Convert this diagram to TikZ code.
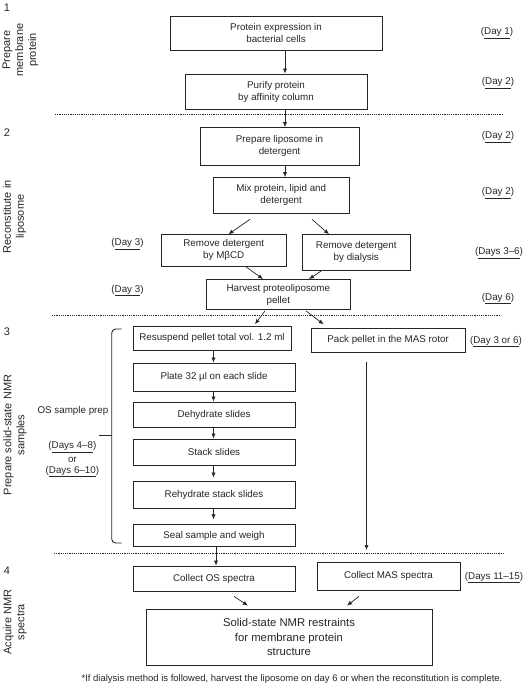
\documentclass[tikz,border=0pt]{standalone}
\usepackage{fontspec}
\setmainfont{Liberation Sans}
\usetikzlibrary{arrows.meta}
\begin{document}
\begin{tikzpicture}[x=1pt,y=-1pt,
  box/.style={draw=black!85, line width=0.8pt, align=center, inner sep=0pt,
    font=\fontsize{9.8}{12}\selectfont, text=black!85},
  arr/.style={draw=black!85, line width=0.7pt, -{Latex[length=5pt,width=4.2pt]}},
  lab/.style={font=\fontsize{9.8}{12}\selectfont, text=black!85, inner sep=0pt, align=center},
  side/.style={font=\fontsize{11}{13}\selectfont, text=black!85, rotate=90, align=center, inner sep=0pt},
  num/.style={font=\fontsize{11}{13}\selectfont, text=black!85, inner sep=0pt},
  sepline/.style={draw=black!85, line width=0.9pt, dash pattern=on 1.1pt off 1.1pt},
  brace/.style={draw=black!85, line width=0.9pt, rounded corners=4pt}]
\useasboundingbox (0,0) rectangle (530,685);

% boxes
\node[box, minimum width=212pt, minimum height=34pt] (b1) at (276,33.3) {Protein expression in\\bacterial cells};
\node[box, minimum width=182pt, minimum height=35.5pt] (b2) at (276,91.7) {Purify protein\\by affinity column};
\node[box, minimum width=159pt, minimum height=37.5pt] (b3) at (279.5,146.2) {Prepare liposome in\\detergent};
\node[box, minimum width=135.5pt, minimum height=35.5pt] (b4) at (281.2,195.2) {Mix protein, lipid and\\detergent};
\node[box, minimum width=124.5pt, minimum height=31.4pt] (b5) at (223.7,250.3) {Remove detergent\\by MβCD};
\node[box, minimum width=107.4pt, minimum height=35.4pt] (b6) at (356.3,252.3) {Remove detergent\\by dialysis};
\node[box, minimum width=143.3pt, minimum height=30pt] (b7) at (278.3,294.5) {Harvest proteoliposome\\pellet};
\node[box, minimum width=158pt, minimum height=24pt] (b8) at (212,338.3) {Resuspend pellet total vol. 1.2 ml};
\node[box, minimum width=154pt, minimum height=24pt] (b9) at (388,340) {Pack pellet in the MAS rotor};
\node[box, minimum width=162pt, minimum height=28.7pt] (b10) at (214,377.3) {Plate 32 µl on each slide};
\node[box, minimum width=162pt, minimum height=25.7pt] (b11) at (214,414.8) {Dehydrate slides};
\node[box, minimum width=162pt, minimum height=26.8pt] (b12) at (214,452.4) {Stack slides};
\node[box, minimum width=162pt, minimum height=27pt] (b13) at (214,494.5) {Rehydrate stack slides};
\node[box, minimum width=162pt, minimum height=22pt] (b14) at (214,535.7) {Seal sample and weigh};
\node[box, minimum width=162pt, minimum height=25pt] (b15) at (214,578.5) {Collect OS spectra};
\node[box, minimum width=143pt, minimum height=28pt] (b16) at (388.5,576) {Collect MAS spectra};
\node[box, minimum width=286pt, minimum height=56pt, font=\fontsize{11.3}{14.5}\selectfont] (b17) at (289,637) {Solid-state NMR restraints\\for membrane protein\\structure};

% vertical arrows
\coordinate (v1) at (285,0);
\coordinate (v2) at (213.5,0);
\coordinate (v3) at (216,0);
\coordinate (pk) at (366.5,0);
\coordinate (pkend) at (366.5,550);
\draw[arr] (b1.south -| v1) -- (b2.north -| v1);
\draw[arr] (b2.south -| v1) -- (b3.north -| v1);
\draw[arr] (b3.south -| v1) -- (b4.north -| v1);
\draw[arr] (b8.south -| v2) -- (b10.north -| v2);
\draw[arr] (b10.south -| v2) -- (b11.north -| v2);
\draw[arr] (b11.south -| v2) -- (b12.north -| v2);
\draw[arr, shorten >=3pt] (b12.south -| v2) -- (b13.north -| v2);
\draw[arr, shorten >=5pt] (b13.south -| v2) -- (b14.north -| v2);
\draw[arr] (b14.south -| v3) -- (b15.north -| v3);
\draw[arr, shorten <=10pt] (b9.south -| pk) -- (pkend);

% diagonal arrows
\draw[arr] ([xshift=-31.2pt,yshift=-6pt]b4.south) -- ([xshift=4.8pt]b5.north);
\draw[arr] ([xshift=30.8pt,yshift=-6pt]b4.south) -- ([xshift=-27.3pt]b6.north);
\draw[arr] ([xshift=21.8pt]b5.south) -- ([xshift=-15.3pt]b7.north);
\draw[arr] ([xshift=-34.3pt]b6.south) -- ([xshift=30.7pt]b7.north);
\draw[arr] ([xshift=-13.3pt,yshift=-1pt]b7.south) -- ([xshift=43pt,yshift=1.7pt]b8.north);
\draw[arr] ([xshift=27.7pt,yshift=-1pt]b7.south) -- ([xshift=-64.3pt,yshift=3.3pt]b9.north);
\draw[arr] ([xshift=20pt,yshift=-5pt]b15.south) -- ([xshift=-41pt,yshift=3pt]b17.north);
\draw[arr] ([xshift=-29.5pt,yshift=-6pt]b16.south) -- ([xshift=58pt,yshift=3pt]b17.north);

% separators
\draw[sepline] (55,114) -- (503,114);
\draw[sepline] (52,315.5) -- (499,315.5);
\draw[sepline] (54,553.8) -- (503,553.8);

% brace
\draw[brace] (121.7,329) -- (111.7,329) -- (111.7,543) -- (121.7,543);
\draw[draw=black!85, line width=0.9pt] (99,435) -- (111.7,435);

% section numbers and side labels
\node[num] (n1) at (7,8) {1};
\node[num] (n2) at (7,132.5) {2};
\node[num] (n3) at (7,331.5) {3};
\node[num] (n4) at (7,571) {4};
\node[side] (s1) at (20.5,50) {Prepare\\membrane\\protein};
\node[side] (s2) at (14.5,216.7) {Reconstitute in\\liposome};
\node[side] (s3) at (15,435) {Prepare solid-state NMR\\samples};
\node[side] (s4) at (15,622) {Acquire NMR\\spectra};

% day labels
\node[lab] (d1) at (497,33) {(\underline{Day 1})};
\node[lab] (d2) at (498,83) {(\underline{Day 2})};
\node[lab] (d3) at (498,137) {(\underline{Day 2})};
\node[lab] (d4) at (498,193) {(\underline{Day 2})};
\node[lab] (d5) at (499,253) {(\underline{Days 3--6})};
\node[lab] (d6) at (498,298.5) {(\underline{Day 6})};
\node[lab] (d7) at (496,341.7) {(\underline{Day 3 or 6})};
\node[lab] (d8) at (494,577.6) {(\underline{Days 11--15})};
\node[lab] (l1) at (127.5,244) {(\underline{Day 3})};
\node[lab] (l2) at (127.5,290.7) {(\underline{Day 3})};
\node[lab] (os) at (73,411) {OS sample prep};
\node[lab] (l3) at (72.4,447) {(\underline{Days 4--8})};
\node[lab] (l4) at (72.4,460) {or};
\node[lab] (l5) at (72.4,471.5) {(\underline{Days 6--10})};

% footnote
\node[lab, font=\fontsize{9.5}{11}\selectfont] (fn) at (292,679) {*If dialysis method is followed, harvest the liposome on day 6 or when the reconstitution is complete.};
\end{tikzpicture}
\end{document}
